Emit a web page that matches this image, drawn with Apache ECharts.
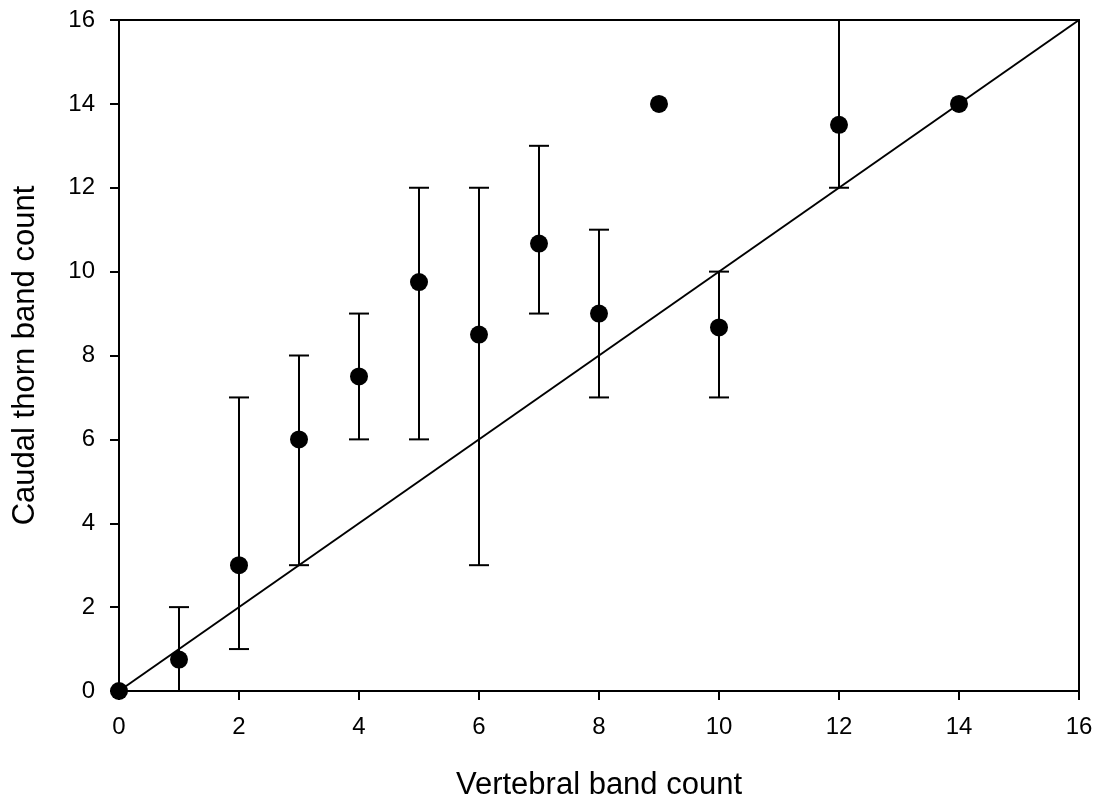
<!DOCTYPE html>
<html>
<head>
    <meta charset="utf-8">
    <title>Caudal thorn vs vertebral band count</title>
    <script src="https://cdn.jsdelivr.net/npm/echarts@6/dist/echarts.min.js"></script>
    <style>
        html, body { margin: 0; padding: 0; background: #fff; }
        #main { width: 1101px; height: 806px; }
    </style>
</head>
<body>
<div id="main"></div>
<script type="text/javascript">
    // data
    var vertebral = [0, 1, 2, 3, 4, 5, 6, 7, 8, 9, 10, 12, 14];
    var caudalMean = [0, 0.75, 3, 6, 7.5, 9.75, 8.5, 10.67, 9, 14, 8.67, 13.5, 14];
    var caudalLow = [null, 0, 1, 3, 6, 6, 3, 9, 7, null, 7, 12, null];
    var caudalHigh = [null, 2, 7, 8, 9, 12, 12, 13, 11, null, 10, 16, null];
    var ticks = [0, 2, 4, 6, 8, 10, 12, 14, 16];
    var oneToOne = [[0, 0], [16, 16]];

    var points = vertebral.map(function (x, i) { return [x, caudalMean[i]]; });
    var bars = [];
    vertebral.forEach(function (x, i) {
        if (caudalLow[i] !== null) bars.push([x, caudalLow[i], caudalHigh[i]]);
    });

    var myChart = echarts.init(document.getElementById('main'));

    var axisFont = { fontFamily: 'Liberation Sans', fontSize: 24, color: '#000' };
    var nameFont = { fontFamily: 'Liberation Sans', fontSize: 31, color: '#000' };

    var option = {
        animation: false,
        backgroundColor: '#fff',
        grid: {
            left: 119, top: 20, right: 22, bottom: 113,
            show: true, borderColor: '#000', borderWidth: 2
        },
        xAxis: {
            type: 'value', min: ticks[0], max: ticks[ticks.length - 1], interval: 2,
            name: 'Vertebral band count', nameLocation: 'middle', nameGap: 79,
            nameTextStyle: nameFont,
            axisLine: { onZero: false, lineStyle: { color: '#000', width: 2 } },
            axisTick: { inside: false, length: 9, lineStyle: { color: '#000', width: 2 } },
            axisLabel: Object.assign({ margin: 24 }, axisFont),
            splitLine: { show: false }
        },
        yAxis: {
            type: 'value', min: ticks[0], max: ticks[ticks.length - 1], interval: 2,
            name: 'Caudal thorn band count', nameLocation: 'middle', nameGap: 78,
            nameTextStyle: nameFont,
            axisLine: { onZero: false, lineStyle: { color: '#000', width: 2 } },
            axisTick: { inside: false, length: 9, lineStyle: { color: '#000', width: 2 } },
            axisLabel: Object.assign({ margin: 24 }, axisFont),
            splitLine: { show: false }
        },
        series: [
            {
                type: 'line',
                data: oneToOne,
                symbol: 'none',
                lineStyle: { color: '#000', width: 2 },
                z: 1
            },
            {
                type: 'custom',
                data: bars,
                clip: true,
                z: 2,
                renderItem: function (params, api) {
                    var x = api.value(0);
                    var lo = api.coord([x, api.value(1)]);
                    var hi = api.coord([x, api.value(2)]);
                    var w = 10;
                    var style = { stroke: '#000', lineWidth: 2 };
                    return {
                        type: 'group',
                        children: [
                            { type: 'line', shape: { x1: lo[0], y1: lo[1], x2: hi[0], y2: hi[1] }, style: style },
                            { type: 'line', shape: { x1: lo[0] - w, y1: lo[1], x2: lo[0] + w, y2: lo[1] }, style: style },
                            { type: 'line', shape: { x1: hi[0] - w, y1: hi[1], x2: hi[0] + w, y2: hi[1] }, style: style }
                        ]
                    };
                }
            },
            {
                type: 'scatter',
                data: points,
                symbol: 'circle',
                symbolSize: 18,
                itemStyle: { color: '#000', opacity: 1 },
                clip: false,
                z: 3
            }
        ]
    };

    myChart.setOption(option);
</script>
</body>
</html>
